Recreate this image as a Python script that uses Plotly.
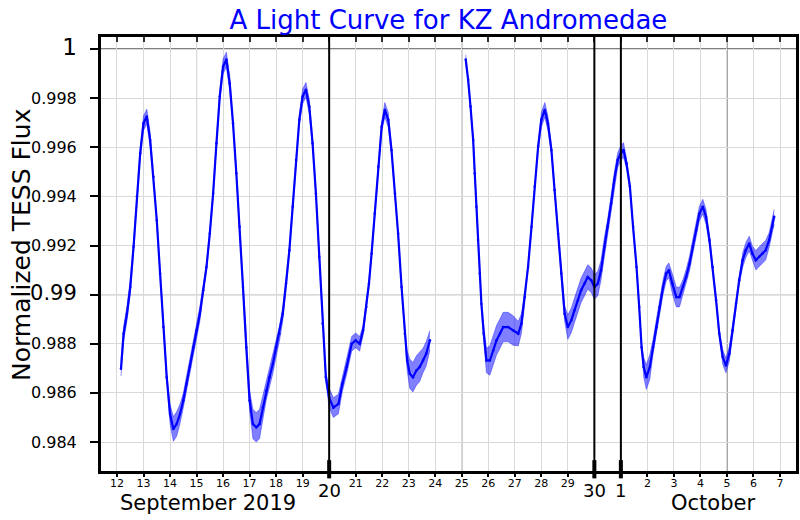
import pandas as pd
import plotly.graph_objects as go

# ---- data (time in days counted from 31 Aug 2019) ----
t_a = [12.15, 12.25, 12.375, 12.5, 12.625, 12.75, 12.875, 13.0, 13.125, 13.25, 13.375, 13.5,
       13.625, 13.75, 13.875, 14.0, 14.125, 14.25, 14.375, 14.5, 14.625, 14.75, 14.875, 15.0,
       15.125, 15.25, 15.375, 15.5, 15.625, 15.75, 15.875, 16.0, 16.125, 16.25, 16.375, 16.5,
       16.625, 16.75, 16.875, 17.0, 17.125, 17.25, 17.375, 17.5, 17.625, 17.75, 17.875, 18.0,
       18.125, 18.25, 18.375, 18.5, 18.625, 18.75, 18.875, 19.0, 19.125, 19.25, 19.375, 19.5,
       19.625, 19.75, 19.875, 20.0, 20.16, 20.35, 20.5, 20.66, 20.85, 21.0, 21.15, 21.28, 21.4,
       21.5, 21.6, 21.72, 21.85, 21.98, 22.1, 22.23, 22.35, 22.48, 22.6, 22.73, 22.85, 22.94,
       23.04, 23.16, 23.29, 23.41, 23.54, 23.66, 23.8]
flux_a = [0.98698, 0.98841, 0.98922, 0.99031, 0.99195, 0.99400, 0.99576, 0.99698, 0.99725, 0.99630,
          0.99480, 0.99303, 0.99086, 0.98868, 0.98664, 0.98514, 0.98453, 0.98473, 0.98514, 0.98569,
          0.98637, 0.98705, 0.98786, 0.98854, 0.98922, 0.99018, 0.99113, 0.99249, 0.99412, 0.99616,
          0.99807, 0.99929, 0.99957, 0.99861, 0.99698, 0.99494, 0.99276, 0.99031, 0.98786, 0.98569,
          0.98473, 0.98460, 0.98473, 0.98541, 0.98609, 0.98664, 0.98718, 0.98786, 0.98841, 0.98922,
          0.99045, 0.99181, 0.99358, 0.99548, 0.99712, 0.99807, 0.99834, 0.99766, 0.99616, 0.99412,
          0.99154, 0.98882, 0.98664, 0.98580, 0.98540, 0.98555, 0.98637, 0.98705, 0.98800, 0.98814,
          0.98800, 0.98854, 0.98950, 0.99045, 0.99167, 0.99330, 0.99521, 0.99684, 0.99752, 0.99711,
          0.99589, 0.99412, 0.99249, 0.99031, 0.98841, 0.98732, 0.98678, 0.98664, 0.98691, 0.98705,
          0.98732, 0.98759, 0.98814]
spread_a = [0.0003, 0.0003, 0.0003, 0.0003, 0.0002, 0.00015, 0.0002, 0.0003, 0.0003, 0.0003,
            0.00015, 0.00012, 0.00012, 0.00012, 0.00015, 0.0004, 0.0005, 0.0005, 0.0004, 0.0003,
            0.0003, 0.0003, 0.0003, 0.0003, 0.0003, 0.0002, 0.00015, 0.00015, 0.00015, 0.00015,
            0.0002, 0.0003, 0.0003, 0.0003, 0.00015, 0.00012, 0.00012, 0.00012, 0.00015, 0.0004,
            0.0006, 0.0006, 0.0006, 0.0005, 0.0004, 0.0004, 0.0004, 0.0004, 0.0003, 0.0003,
            0.0002, 0.00015, 0.00015, 0.00015, 0.0002, 0.0003, 0.0003, 0.0003, 0.00015, 0.00012,
            0.00012, 0.00012, 0.0002, 0.0004, 0.0004, 0.0004, 0.0003, 0.0003, 0.0003, 0.0003,
            0.0003, 0.0002, 0.00015, 0.00015, 0.00012, 0.00012, 0.00012, 0.0002, 0.0003, 0.0003,
            0.00015, 0.00012, 0.00012, 0.00012, 0.0002, 0.0004, 0.0006, 0.0006, 0.0006, 0.0006,
            0.0005, 0.0005, 0.0004]

t_b = [25.15, 25.24, 25.33, 25.43, 25.49, 25.55, 25.61, 25.68, 25.74, 25.83, 25.93, 26.06, 26.19,
       26.31, 26.44, 26.56, 26.75, 26.94, 27.13, 27.25, 27.38, 27.5, 27.63, 27.75, 27.88, 28.0,
       28.13, 28.25, 28.38, 28.5, 28.63, 28.75, 28.88, 29.0, 29.13, 29.25, 29.38, 29.5, 29.63,
       29.75, 29.88, 30.0, 30.13, 30.25, 30.38, 30.5, 30.63, 30.75, 30.88, 31.0, 31.1, 31.21,
       31.34, 31.46, 31.59, 31.69, 31.78, 31.86, 31.96, 32.09, 32.21, 32.34, 32.46, 32.59, 32.71,
       32.81, 32.94, 33.09, 33.21, 33.34, 33.46, 33.59, 33.71, 33.84, 33.96, 34.09, 34.21, 34.34,
       34.46, 34.59, 34.71, 34.84, 34.96, 35.09, 35.21, 35.34, 35.46, 35.59, 35.71, 35.84, 35.96,
       36.09, 36.21, 36.34, 36.46, 36.59, 36.71, 36.78]
flux_b = [0.99957, 0.99875, 0.99766, 0.99630, 0.99494, 0.99358, 0.99222, 0.99086, 0.98963, 0.98841,
          0.98732, 0.98732, 0.98773, 0.98814, 0.98841, 0.98868, 0.98868, 0.98854, 0.98841, 0.98882,
          0.98990, 0.99113, 0.99276, 0.99440, 0.99603, 0.99712, 0.99752, 0.99698, 0.99589, 0.99426,
          0.99249, 0.99086, 0.98922, 0.98868, 0.98895, 0.98936, 0.98977, 0.99018, 0.99045, 0.99072,
          0.99059, 0.99031, 0.99045, 0.99099, 0.99195, 0.99276, 0.99371, 0.99467, 0.99548, 0.99576,
          0.99589, 0.99535, 0.99440, 0.99276, 0.99113, 0.98950, 0.98786, 0.98705, 0.98664, 0.98705,
          0.98786, 0.98868, 0.98950, 0.99031, 0.99086, 0.99099, 0.99045, 0.98990, 0.98990, 0.99031,
          0.99072, 0.99127, 0.99195, 0.99263, 0.99330, 0.99358, 0.99317, 0.99222, 0.99113, 0.98977,
          0.98841, 0.98746, 0.98712, 0.98759, 0.98854, 0.98963, 0.99059, 0.99140, 0.99181, 0.99208,
          0.99167, 0.99140, 0.99154, 0.99167, 0.99181, 0.99222, 0.99276, 0.99317]
spread_b = [0.0002, 0.00012, 0.00012, 0.00012, 0.00012, 0.00012, 0.00012, 0.00012, 0.00015, 0.0003,
            0.0005, 0.0006, 0.0006, 0.0006, 0.0006, 0.0006, 0.0006, 0.0006, 0.0005, 0.0004,
            0.0002, 0.00012, 0.00012, 0.00012, 0.00015, 0.0003, 0.0003, 0.0003, 0.00015, 0.00012,
            0.00012, 0.00012, 0.0003, 0.0005, 0.0005, 0.0005, 0.0005, 0.0005, 0.0005, 0.0005,
            0.0005, 0.0005, 0.0005, 0.0004, 0.0004, 0.0003, 0.0003, 0.0003, 0.0003, 0.0003,
            0.0003, 0.0002, 0.00015, 0.00012, 0.00012, 0.00012, 0.00015, 0.0004, 0.0005, 0.0005,
            0.0003, 0.0003, 0.0003, 0.0003, 0.0003, 0.0003, 0.0004, 0.0004, 0.0004, 0.0003,
            0.0003, 0.0003, 0.0003, 0.0003, 0.0003, 0.0003, 0.0003, 0.0002, 0.00015, 0.00012,
            0.00015, 0.0003, 0.0003, 0.0003, 0.0002, 0.00015, 0.0002, 0.0003, 0.0003, 0.0003,
            0.0003, 0.0004, 0.0004, 0.0004, 0.0004, 0.0003, 0.0003, 0.0003]

day_ticks = list(range(12, 38))              # 12 Sep ... 7 Oct (as days from 31 Aug)
flux_ticks = [0.984, 0.986, 0.988, 0.99, 0.992, 0.994, 0.996, 0.998, 1.0]
flux_tick_text = ["0.984", "0.986", "0.988", "0.99", "0.992", "0.994", "0.996", "0.998", "1"]

base = pd.Timestamp("2019-08-31")
def to_date(days):
    return [base + pd.Timedelta(days=float(d)) for d in days]

BLUE = "#0000ff"
FONT = "DejaVu Sans"

fig = go.Figure()
for t, f, s in [(t_a, flux_a, spread_a), (t_b, flux_b, spread_b)]:
    d = to_date(t)
    lo = [fi - si for fi, si in zip(f, s)]
    hi = [fi + si for fi, si in zip(f, s)]
    fig.add_trace(go.Scatter(x=d, y=lo, mode="lines", line=dict(width=0.6, color="rgba(0,0,255,0.6)"),
                             showlegend=False, hoverinfo="skip"))
    fig.add_trace(go.Scatter(x=d, y=hi, mode="lines", line=dict(width=0.6, color="rgba(0,0,255,0.6)"),
                             fill="tonexty", fillcolor="rgba(0,0,255,0.5)",
                             showlegend=False, hoverinfo="skip"))
    fig.add_trace(go.Scatter(x=d, y=f, mode="lines+markers", line=dict(width=2.2, color=BLUE),
                             marker=dict(size=2.5, color=BLUE), showlegend=False))

# dummy traces for the tick-only axes (top inside ticks, bottom outside ticks)
fig.add_trace(go.Scatter(x=to_date([20]), y=[None], xaxis="x2", showlegend=False))
fig.add_trace(go.Scatter(x=to_date([20]), y=[None], xaxis="x3", showlegend=False))

tick_dates = to_date(day_ticks)
tick_text = []
for d in day_ticks:
    if d in (20, 30, 31):
        tick_text.append("")
    elif d > 30:
        tick_text.append(str(d - 30))
    else:
        tick_text.append(str(d))

xr = to_date([11.397, 37.603])
fig.update_layout(
    template="none",
    width=800, height=520,
    paper_bgcolor="white", plot_bgcolor="white",
    margin=dict(l=101, r=4, t=37, b=49, autoexpand=False),
    font=dict(family=FONT, color="black"),
    title=dict(text="A Light Curve for KZ Andromedae", font=dict(size=26, color=BLUE, family=FONT),
               x=0.5605, xanchor="center", y=1 - 20 / 520, yanchor="middle", automargin=False),
    xaxis=dict(type="date", range=xr, tickmode="array", tickvals=tick_dates, ticktext=tick_text,
               tickfont=dict(size=11, family=FONT), ticks="", ticklen=0,
               showgrid=True, gridcolor="#d9d9d9", gridwidth=1, automargin=False,
               showline=True, linecolor="black", linewidth=3, mirror=True, zeroline=False),
    xaxis2=dict(type="date", overlaying="x", side="top", matches="x", range=xr, tickmode="array",
                tickvals=tick_dates, showticklabels=False, ticks="inside", ticklen=5, tickwidth=2,
                tickcolor="#333", showgrid=False, showline=False, zeroline=False, automargin=False),
    xaxis3=dict(type="date", overlaying="x", side="bottom", matches="x", range=xr, tickmode="array",
                tickvals=tick_dates, showticklabels=False, ticks="outside", ticklen=5, tickwidth=2,
                tickcolor="black", showgrid=False, showline=False, zeroline=False, automargin=False),
    yaxis=dict(range=[0.98282, 1.000489], tickmode="array", tickvals=flux_ticks,
               ticktext=[("<span style='font-size:23px'>1</span>" if v == "1" else
                          ("<span style='font-size:21px'>0.99</span>" if v == "0.99" else v))
                         for v in flux_tick_text],
               tickfont=dict(size=16, family=FONT), ticks="outside", ticklen=8, tickwidth=2,
               tickcolor="black", ticklabelstandoff=10, automargin=False,
               showgrid=True, gridcolor="#d9d9d9", gridwidth=1,
               showline=True, linecolor="black", linewidth=3, mirror=True, zeroline=False),
)

# darker reference lines
shapes = []
for d in (15, 25, 35):
    x = to_date([d])[0]
    shapes.append(dict(type="line", xref="x", yref="paper", x0=x, x1=x, y0=0, y1=1,
                       line=dict(color="#444", width=1), layer="below"))
for d in (20, 30, 31):
    x = to_date([d])[0]
    shapes.append(dict(type="line", xref="x", yref="paper", x0=x, x1=x, y0=0, y1=1,
                       line=dict(color="black", width=2), layer="above"))
    shapes.append(dict(type="line", xref="x", yref="paper", x0=x, x1=x, y0=-0.017, y1=0.025,
                       line=dict(color="black", width=4), layer="above"))
for v, c in ((0.99, "#333"), (1.0, "black")):
    shapes.append(dict(type="line", xref="paper", yref="y", x0=0, x1=1, y0=v, y1=v,
                       line=dict(color=c, width=1), layer="below"))
fig.update_layout(shapes=shapes)

ann = []
for d, txt in ((20, "20"), (30, "30"), (31, "1")):
    ann.append(dict(x=to_date([d])[0], xref="x", y=0, yref="paper", yshift=-19, text=txt,
                    showarrow=False, yanchor="middle", font=dict(size=18, family=FONT)))
ann.append(dict(x=to_date([15.43])[0], xref="x", y=0, yref="paper", yshift=-32,
                text="September 2019", showarrow=False, yanchor="middle",
                font=dict(size=21, family=FONT)))
ann.append(dict(x=to_date([34.47])[0], xref="x", y=0, yref="paper", yshift=-32,
                text="October", showarrow=False, yanchor="middle",
                font=dict(size=21, family=FONT)))
ann.append(dict(x=0, xref="paper", xshift=-80, y=0.5, yref="paper", yshift=9,
                text="Normalized TESS Flux", textangle=-90, showarrow=False,
                xanchor="center", yanchor="middle", font=dict(size=25, family=FONT)))
fig.update_layout(annotations=ann)

fig.write_html("out.html", config={"displayModeBar": False},
               post_script="document.body.style.margin='0';document.body.style.padding='0';")
